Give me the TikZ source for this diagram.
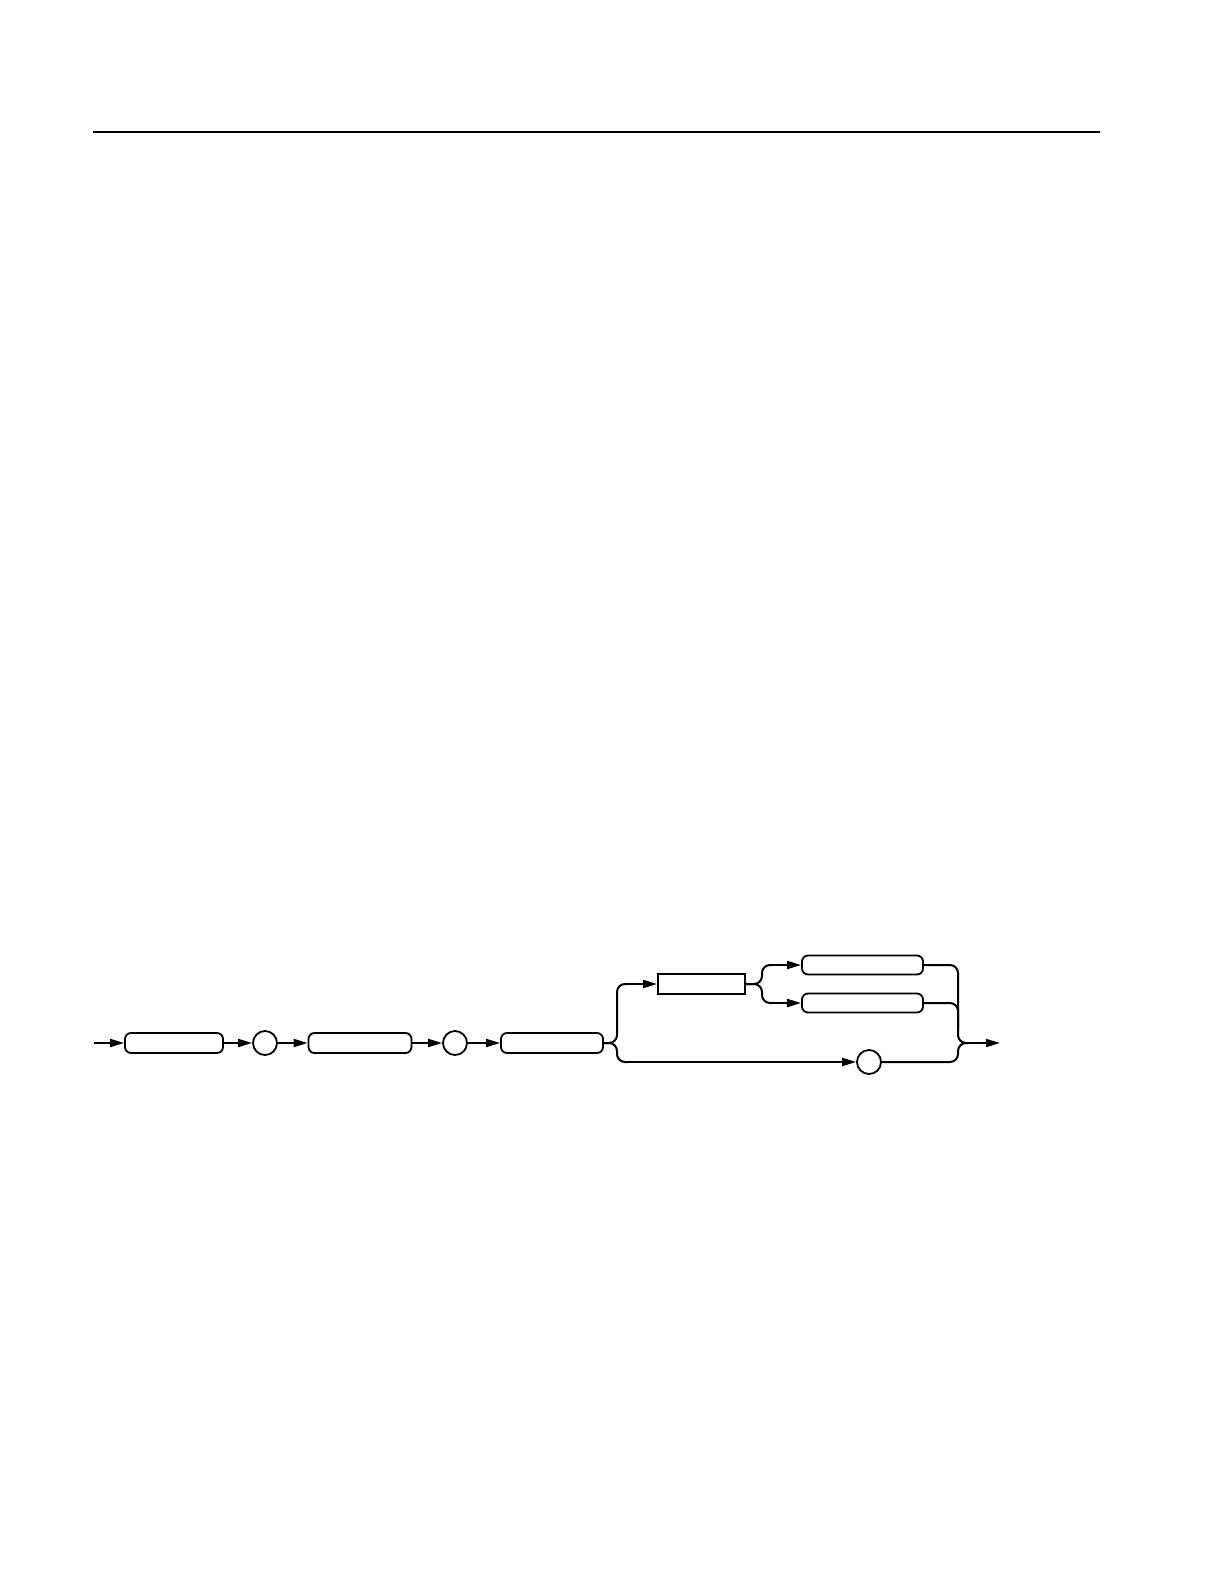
\documentclass[tikz,border=0pt]{standalone}
\usetikzlibrary{arrows.meta}
\begin{document}
\begin{tikzpicture}[x=1pt,y=-1pt,
  rbox/.style={draw,line width=1.8pt,rounded corners=6pt,minimum height=20pt,inner sep=0pt},
  sbox/.style={draw,line width=1.8pt,minimum height=20pt,inner sep=0pt},
  cnode/.style={draw,circle,line width=1.8pt,minimum size=24pt,inner sep=0pt},
  conn/.style={line width=2pt,rounded corners=8pt},
  arr/.style={line width=2pt,-{Triangle[length=14pt,width=8pt]}}]
\useasboundingbox (0,0) rectangle (1224,1584);
\fill[white] (0,0) rectangle (1224,1584);
\coordinate (ruleL) at (93,132);
\coordinate (ruleR) at (1100,132);
\draw[line width=1.5pt] (ruleL) -- (ruleR);

\node[rbox,minimum width=98pt] (b1) at (174,1043) {};
\node[cnode] (c1) at (265,1043) {};
\node[rbox,minimum width=103pt] (b2) at (360,1043) {};
\node[cnode] (c2) at (455,1043) {};
\node[rbox,minimum width=102pt] (b3) at (552,1043) {};
\node[sbox,minimum width=87pt] (r1) at (701.5,984) {};
\node[rbox,minimum width=121pt,minimum height=19pt] (bt) at (862.5,965) {};
\node[rbox,minimum width=121pt,minimum height=19pt] (bb) at (862.5,1003) {};
\node[cnode] (c3) at (869,1062) {};

\coordinate (entry) at (94,1043);
\coordinate (exit) at (1000,1043);
\coordinate (m) at (968,1043);

\draw[arr] (entry) -- (b1.west);
\draw[arr] (b1.east) -- (c1.west);
\draw[arr] (c1.east) -- (b2.west);
\draw[arr] (b2.east) -- (c2.west);
\draw[arr] (c2.east) -- (b3.west);

\draw[conn] (b3.east) -- (617,1043) -- (617,984) -- (628,984);
\draw[arr] (628,984) -- (r1.west);
\draw[conn] (b3.east) -- (617,1043) -- (617,1062) -- (628,1062);
\draw[arr] (628,1062) -- (c3.west);

\draw[conn] (r1.east) -- (762,984) -- (762,965) -- (772,965);
\draw[arr] (772,965) -- (bt.west);
\draw[conn] (r1.east) -- (762,984) -- (762,1003) -- (772,1003);
\draw[arr] (772,1003) -- (bb.west);

\draw[conn] (bt.east) -- (958,965) -- (958,1043) -- (m);
\draw[conn] (bb.east) -- (958,1003) -- (958,1030);
\draw[conn] (c3.east) -- (958,1062) -- (958,1043) -- (m);
\draw[arr] (m) -- (exit);
\end{tikzpicture}
\end{document}
